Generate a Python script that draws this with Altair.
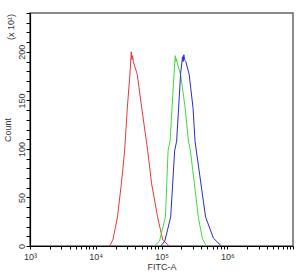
import altair as alt
import pandas as pd

# Histogram outlines (FITC-A value, Count in units of 10)
red_x = [16200, 18200, 21400, 24500, 27500, 30200, 33100, 34700, 35500, 36300, 37200, 42700, 50100, 58900, 61700, 70800, 87100, 104700, 131800]
red_y = [0, 6, 30, 64, 98, 142, 177, 200, 192, 196, 190, 177, 142, 108, 98, 64, 30, 6, 0]

green_x = [77600, 93300, 114800, 125900, 134900, 144500, 154900, 162200, 166000, 169800, 173800, 195000, 229100, 257000, 275400, 363100, 416900, 478600]
green_y = [0, 5, 30, 98, 108, 142, 177, 196, 190, 193, 188, 177, 142, 108, 98, 30, 8, 0]

blue_x = [97700, 112200, 138000, 158500, 169800, 182000, 195000, 208900, 213800, 218800, 224000, 234400, 263000, 302000, 323600, 338800, 467700, 616600, 812800]
blue_y = [0, 5, 30, 98, 108, 142, 177, 195, 190, 197, 192, 190, 177, 142, 108, 98, 30, 8, 0]

series_names = ["red", "green", "blue"]
series_colors = ["#e8383c", "#3ddc3d", "#2a2ad0"]

x_ticks = [m * d for d in [1e3, 1e4, 1e5, 1e6] for m in range(1, 10)] + [1e7]
y_ticks = list(range(0, 241, 10))

rows = []
for name, xs, ys in zip(series_names, [red_x, green_x, blue_x], [red_y, green_y, blue_y]):
    for i, (a, b) in enumerate(zip(xs, ys)):
        rows.append({"series": name, "fitc": a, "count": b, "order": i})
df = pd.DataFrame(rows)

label_expr = ("datum.value == 1000 ? '10³' : datum.value == 10000 ? '10⁴' : "
              "datum.value == 100000 ? '10⁵' : datum.value == 1000000 ? '10⁶' : ''")

lines = alt.Chart(df).mark_line(strokeWidth=1, clip=True).encode(
    x=alt.X("fitc:Q",
            scale=alt.Scale(type="log", domain=[1e3, 1e7], nice=False),
            axis=alt.Axis(values=x_ticks, labelExpr=label_expr, title="FITC-A",
                          grid=False, tickSize=3, labelFlush=False, labelOverlap=False,
                          labelPadding=3, titlePadding=1)),
    y=alt.Y("count:Q",
            scale=alt.Scale(domain=[0, 240], nice=False),
            axis=alt.Axis(values=y_ticks,
                          labelExpr="datum.value % 50 == 0 && datum.value <= 200 ? datum.label : ''",
                          title="Count", grid=False, tickSize=4, labelAngle=270,
                          labelAlign="center", labelBaseline="bottom", labelPadding=0,
                          titlePadding=5, labelOverlap=False, labelFlush=False)),
    color=alt.Color("series:N", scale=alt.Scale(domain=series_names, range=series_colors),
                    legend=None),
    order="order:Q",
    detail="series:N",
)

mult = alt.Chart(pd.DataFrame({"t": ["(x 10¹)"]})).mark_text(
    angle=270, font="Liberation Sans", fontSize=9, color="#333333", align="center",
    baseline="middle").encode(
    text="t:N", x=alt.value(-19), y=alt.value(14))

chart = alt.layer(lines, mult).properties(
    width=263, height=233,
    background="white",
    autosize=alt.AutoSizeParams(type="none"),
    padding={"left": 30, "top": 13, "right": 3, "bottom": 29},
).configure_view(stroke="#666666", strokeWidth=1.5).configure_axis(
    labelFont="Liberation Sans", titleFont="Liberation Sans", labelFontSize=9,
    titleFontSize=9, titleFontWeight="normal", labelColor="#333333", titleColor="#333333",
    domainColor="#000000", tickColor="#000000", domainWidth=1.2,
)

chart.save("out.html", embed_options={"renderer": "svg", "actions": False})
